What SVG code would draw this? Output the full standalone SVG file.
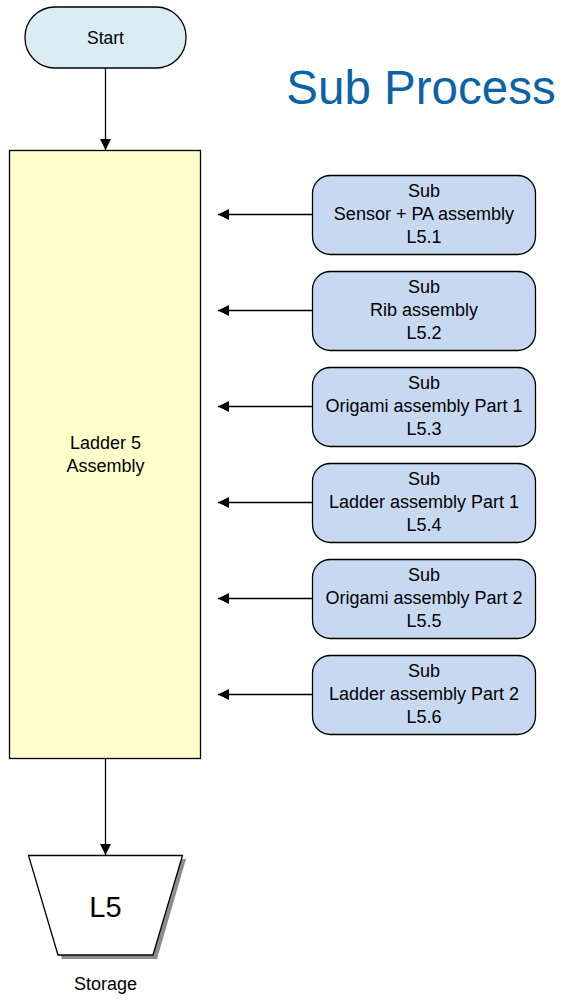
<svg xmlns="http://www.w3.org/2000/svg" width="568" height="1002" viewBox="0 0 568 1002">
  <style>
    text { font-family: "Liberation Sans", Arial, sans-serif; fill: #000; }
    .lbl { font-size: 18px; text-anchor: middle; }
    .sub rect { fill: #C7D9F0; stroke: #000; stroke-width: 1.3; }
    .conn { stroke: #000; stroke-width: 1.3; fill: none; }
  </style>
  <defs>
    <marker id="arrow" viewBox="0 0 10 10" refX="10" refY="5" markerWidth="12" markerHeight="11" markerUnits="userSpaceOnUse" orient="auto">
      <path d="M0,0 L10,5 L0,10 Z" fill="#000"/>
    </marker>
  </defs>

  <text x="421" y="104" font-size="47.5" text-anchor="middle" style="fill:#0B62A4">Sub Process</text>

  <g id="start">
    <rect x="25" y="7" width="161" height="61" rx="30" ry="30" fill="#DBEDF4" stroke="#000" stroke-width="1.3"/>
    <text class="lbl" x="105.5" y="44" style="font-size:17.5px">Start</text>
  </g>

  <g id="ladder5">
    <rect x="9.5" y="150.5" width="191" height="608" fill="#FFFFCC" stroke="#000" stroke-width="1.3"/>
    <text class="lbl" x="105.5" y="449">Ladder 5</text>
    <text class="lbl" x="105.5" y="472">Assembly</text>
  </g>

  <g id="sub1" class="sub">
    <rect x="312.5" y="175.5" width="223" height="79" rx="18"/>
    <text class="lbl" x="424" y="197">Sub</text>
    <text class="lbl" x="424" y="220">Sensor + PA assembly</text>
    <text class="lbl" x="424" y="243">L5.1</text>
  </g>
  <g id="sub2" class="sub">
    <rect x="312.5" y="271.5" width="223" height="79" rx="18"/>
    <text class="lbl" x="424" y="293">Sub</text>
    <text class="lbl" x="424" y="316">Rib assembly</text>
    <text class="lbl" x="424" y="339">L5.2</text>
  </g>
  <g id="sub3" class="sub">
    <rect x="312.5" y="367.5" width="223" height="79" rx="18"/>
    <text class="lbl" x="424" y="389">Sub</text>
    <text class="lbl" x="424" y="412">Origami assembly Part 1</text>
    <text class="lbl" x="424" y="435">L5.3</text>
  </g>
  <g id="sub4" class="sub">
    <rect x="312.5" y="463.5" width="223" height="79" rx="18"/>
    <text class="lbl" x="424" y="485">Sub</text>
    <text class="lbl" x="424" y="508">Ladder assembly Part 1</text>
    <text class="lbl" x="424" y="531">L5.4</text>
  </g>
  <g id="sub5" class="sub">
    <rect x="312.5" y="559.5" width="223" height="79" rx="18"/>
    <text class="lbl" x="424" y="581">Sub</text>
    <text class="lbl" x="424" y="604">Origami assembly Part 2</text>
    <text class="lbl" x="424" y="627">L5.5</text>
  </g>
  <g id="sub6" class="sub">
    <rect x="312.5" y="655.5" width="223" height="79" rx="18"/>
    <text class="lbl" x="424" y="677">Sub</text>
    <text class="lbl" x="424" y="700">Ladder assembly Part 2</text>
    <text class="lbl" x="424" y="723">L5.6</text>
  </g>

  <g id="storage">
    <!-- drop shadow -->
    <path d="M32,859 L186,859 L157,959 L62,959 Z" fill="#8C8C8C"/>
    <path d="M28.5,855.5 L182.5,855.5 L153,955 L58,955 Z" fill="#FFFFFF" stroke="#000" stroke-width="1.3"/>
    <text x="105.5" y="917" font-size="29" text-anchor="middle">L5</text>
    <text class="lbl" x="105.5" y="990">Storage</text>
  </g>

  <g id="connectors">
    <line class="conn" x1="105.5" y1="68" x2="105.5" y2="150" marker-end="url(#arrow)"/>
    <line class="conn" x1="105.5" y1="759" x2="105.5" y2="855" marker-end="url(#arrow)"/>
    <line class="conn" x1="312" y1="214.5" x2="218" y2="214.5" marker-end="url(#arrow)"/>
    <line class="conn" x1="312" y1="310.5" x2="218" y2="310.5" marker-end="url(#arrow)"/>
    <line class="conn" x1="312" y1="406.5" x2="218" y2="406.5" marker-end="url(#arrow)"/>
    <line class="conn" x1="312" y1="502.5" x2="218" y2="502.5" marker-end="url(#arrow)"/>
    <line class="conn" x1="312" y1="598.5" x2="218" y2="598.5" marker-end="url(#arrow)"/>
    <line class="conn" x1="312" y1="694.5" x2="218" y2="694.5" marker-end="url(#arrow)"/>
  </g>
</svg>
